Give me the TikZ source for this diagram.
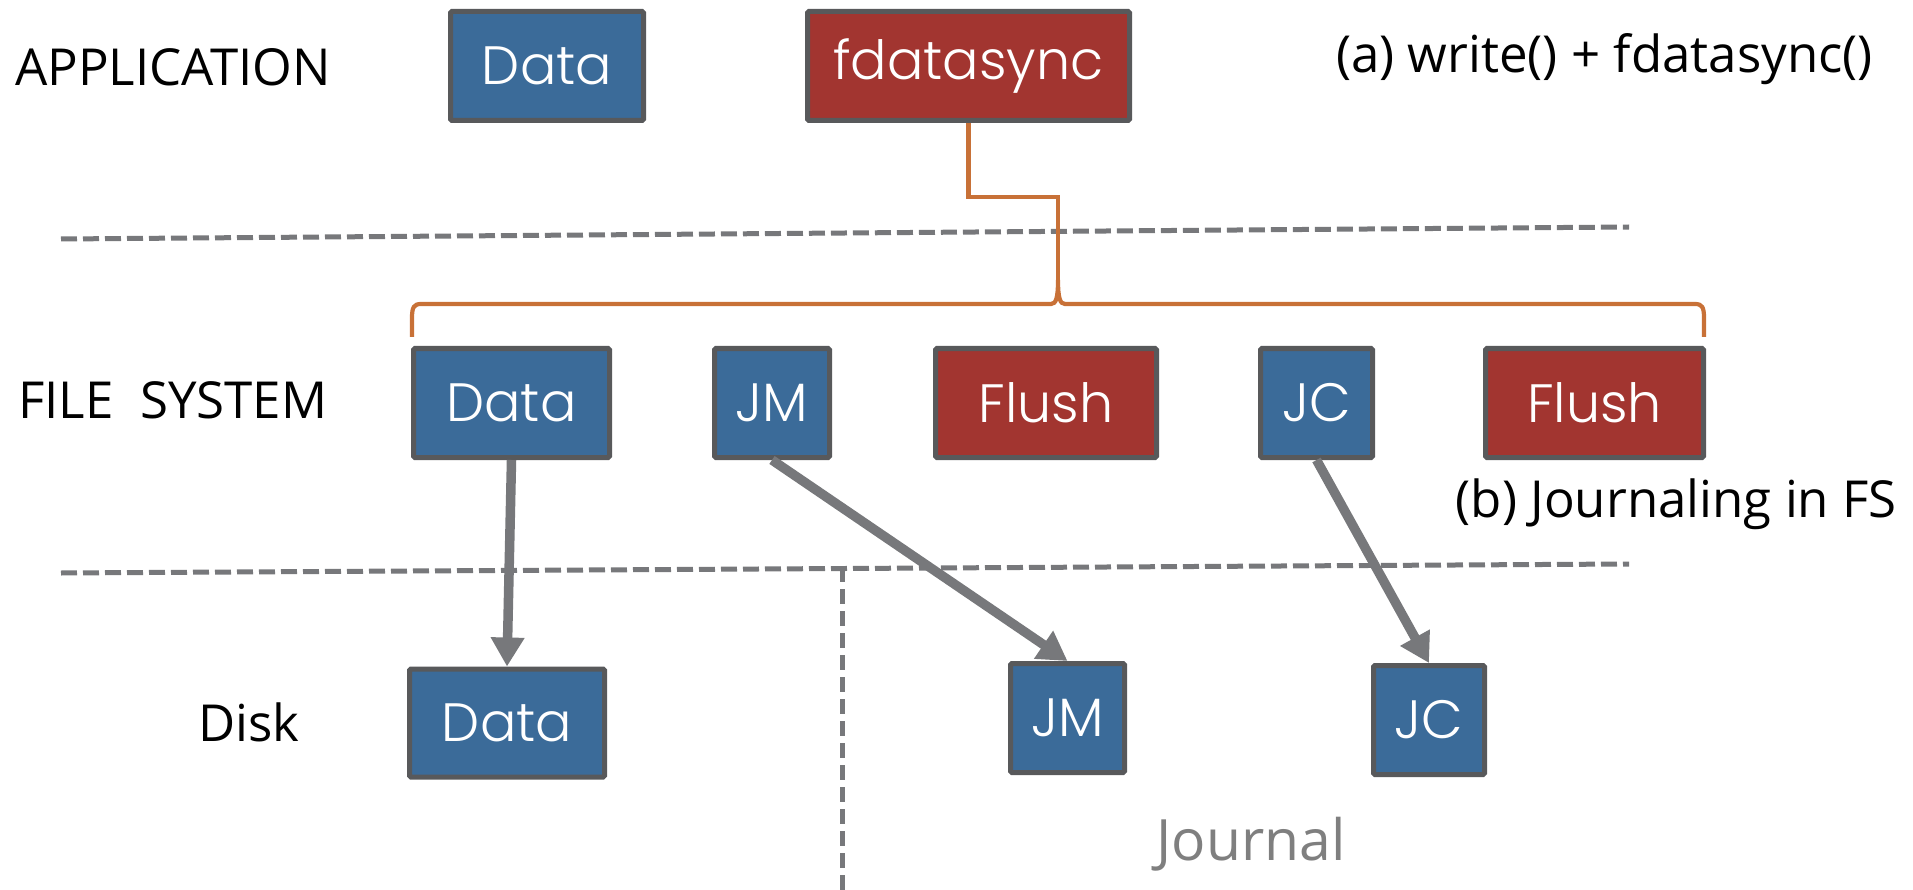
\documentclass[tikz,border=0pt]{standalone}
\usepackage{fontspec}
\setmainfont{Open Sans}
\newfontfamily\boxfont{Poppins Light}
\usetikzlibrary{arrows.meta}

\definecolor{boxblue}{HTML}{3B6B99}
\definecolor{boxred}{HTML}{A23530}
\definecolor{boxline}{HTML}{58595B}
\definecolor{lineGray}{HTML}{77787B}
\definecolor{syncOrange}{HTML}{C87137}
\definecolor{journalgray}{HTML}{7F7F7F}

\tikzset{
  box/.style={draw=boxline, line width=5pt, rounded corners=1.5pt, inner sep=0pt,
    text=white, font=\boxfont\fontsize{54}{64}\selectfont},
  bluebox/.style={box, fill=boxblue},
  redbox/.style={box, fill=boxred},
  layer/.style={draw=lineGray, line width=5pt, dash pattern=on 16pt off 6pt},
  split/.style={draw=lineGray, line width=5pt, dash pattern=on 15pt off 7pt},
  flow/.style={draw=lineGray, line width=9.5pt, -{Triangle[length=29pt,width=32pt]}},
  sync/.style={draw=syncOrange, line width=4.2pt},
  lbl/.style={font=\fontsize{51}{60}\selectfont, inner sep=0pt},
}

\begin{document}
\begin{tikzpicture}[x=1pt, y=-1pt]
\useasboundingbox (0,0) rectangle (1913,890);

% layer separators
\coordinate (l1a) at (61,239);
\coordinate (l1b) at (1629,227);
\coordinate (l2a) at (61,573);
\coordinate (l2b) at (1629,564);
\coordinate (va) at (842,567);
\coordinate (vb) at (842,890);
\draw[layer] (l1a) -- (l1b);
\draw[layer] (l2a) -- (l2b);
\draw[split] (va) -- (vb);

% layer names and captions
\node[lbl, anchor=west] (app) at (15,67) {APPLICATION};
\node[lbl, anchor=west] (fs) at (18,400) {FILE\ \ SYSTEM};
\node[lbl, anchor=west] (disk) at (198,722) {Disk};
\node[lbl, anchor=east] (capa) at (1873,59) {(a) write() + fdatasync()};
\node[lbl, anchor=east] (capb) at (1897,504) {(b) Journaling in FS};
\node[lbl, text=journalgray, font=\fontsize{57}{66}\selectfont] (jr) at (1251,844) {Journal};

% application
\node[bluebox, minimum width=193, minimum height=109] (adata) at (547,66) {Data};
\node[redbox, minimum width=322, minimum height=109] (afsync) at (968.5,66) {fdatasync};

% file system
\node[bluebox, minimum width=196, minimum height=109] (fdata) at (511.5,403) {Data};
\node[bluebox, minimum width=115, minimum height=109] (fjm) at (772,403) {JM};
\node[redbox, minimum width=221, minimum height=109] (fflush1) at (1046,403) {Flush};
\node[bluebox, minimum width=112, minimum height=109] (fjc) at (1316.5,403) {JC};
\node[redbox, minimum width=218, minimum height=109] (fflush2) at (1594.5,403) {Flush};

% disk
\node[bluebox, minimum width=195, minimum height=108] (ddata) at (507,723) {Data};
\node[bluebox, minimum width=114, minimum height=109] (djm) at (1067.5,718) {JM};
\node[bluebox, minimum width=111, minimum height=109] (djc) at (1429,720) {JC};

% fdatasync fans out over the file-system steps
\coordinate (bend1) at (968.5,197);
\coordinate (bend2) at (1058,197);
\coordinate (tip) at (1058,280);
\coordinate (bl) at (412,337);
\coordinate (br) at (1704,337);
\draw[sync] (afsync.south) -- (bend1) -- (bend2) -- (tip);
\draw[sync] (bl) -- (412,318) .. controls (412,307) and (414,304) .. (421,304)
  -- (1051,304) .. controls (1056,304) and (1058,298) .. (tip)
  .. controls (1058,298) and (1060,304) .. (1065,304)
  -- (1695,304) .. controls (1702,304) and (1704,307) .. (1704,318) -- (br);

% writes to disk
\draw[flow] (fdata.south) -- (ddata.north);
\draw[flow] (fjm.south) -- (djm.north);
\draw[flow] (fjc.south) -- (djc.north);
\end{tikzpicture}
\end{document}
